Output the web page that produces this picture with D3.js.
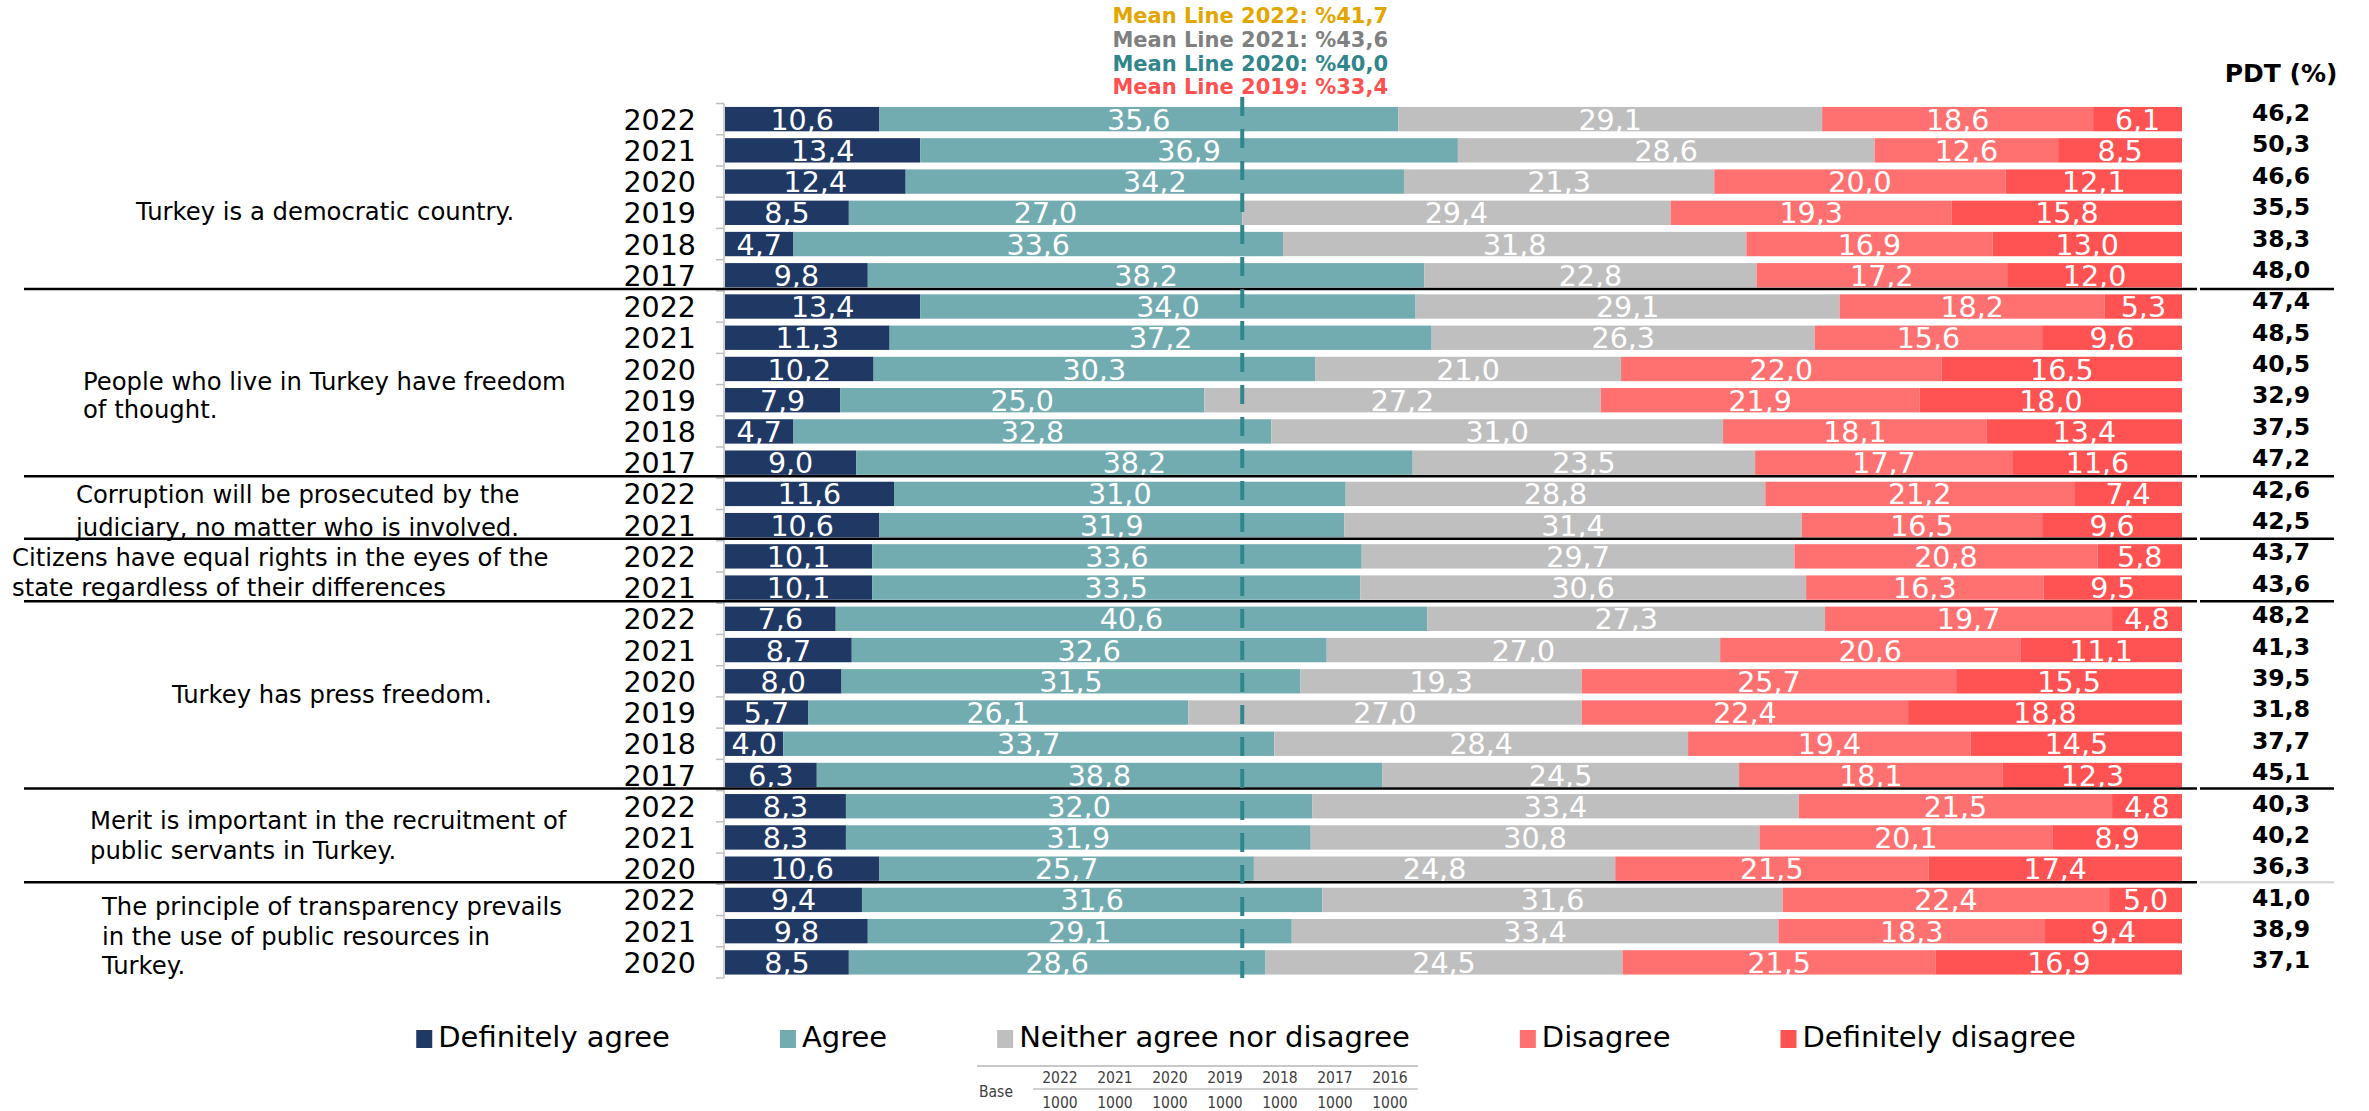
<!DOCTYPE html>
<html><head><meta charset="utf-8">
<script src="https://cdn.jsdelivr.net/npm/d3@7"></script>
<style>body{margin:0;background:#fff;} svg{display:block;}</style>
</head><body>
<svg id="chart" width="2369" height="1111"></svg>
<script>
// ---------------- DATA ----------------
const seriesNames = ["Definitely agree","Agree","Neither agree nor disagree","Disagree","Definitely disagree"];
const seriesColors = ["#203864","#72ACB1","#BFBFBF","#FF7171","#FF5252"];

const statementLines = [
  ["Turkey is a democratic country."],
  ["People who live in Turkey have freedom","of thought."],
  ["Corruption will be prosecuted by the","judiciary, no matter who is involved."],
  ["Citizens have equal rights in the eyes of the","state regardless of their differences"],
  ["Turkey has press freedom."],
  ["Merit is important in the recruitment of","public servants in Turkey."],
  ["The principle of transparency prevails","in the use of public resources in","Turkey."]
];
const statementYears = [
  ["2022","2021","2020","2019","2018","2017"],
  ["2022","2021","2020","2019","2018","2017"],
  ["2022","2021"],
  ["2022","2021"],
  ["2022","2021","2020","2019","2018","2017"],
  ["2022","2021","2020"],
  ["2022","2021","2020"]
];
// one value per row (rows in order of statementYears)
const definitelyAgree    = [10.6,13.4,12.4,8.5,4.7,9.8, 13.4,11.3,10.2,7.9,4.7,9.0, 11.6,10.6, 10.1,10.1, 7.6,8.7,8.0,5.7,4.0,6.3, 8.3,8.3,10.6, 9.4,9.8,8.5];
const agree              = [35.6,36.9,34.2,27.0,33.6,38.2, 34.0,37.2,30.3,25.0,32.8,38.2, 31.0,31.9, 33.6,33.5, 40.6,32.6,31.5,26.1,33.7,38.8, 32.0,31.9,25.7, 31.6,29.1,28.6];
const neither            = [29.1,28.6,21.3,29.4,31.8,22.8, 29.1,26.3,21.0,27.2,31.0,23.5, 28.8,31.4, 29.7,30.6, 27.3,27.0,19.3,27.0,28.4,24.5, 33.4,30.8,24.8, 31.6,33.4,24.5];
const disagree           = [18.6,12.6,20.0,19.3,16.9,17.2, 18.2,15.6,22.0,21.9,18.1,17.7, 21.2,16.5, 20.8,16.3, 19.7,20.6,25.7,22.4,19.4,18.1, 21.5,20.1,21.5, 22.4,18.3,21.5];
const definitelyDisagree = [6.1,8.5,12.1,15.8,13.0,12.0, 5.3,9.6,16.5,18.0,13.4,11.6, 7.4,9.6, 5.8,9.5, 4.8,11.1,15.5,18.8,14.5,12.3, 4.8,8.9,17.4, 5.0,9.4,16.9];
const pdtValues          = [46.2,50.3,46.6,35.5,38.3,48.0, 47.4,48.5,40.5,32.9,37.5,47.2, 42.6,42.5, 43.7,43.6, 48.2,41.3,39.5,31.8,37.7,45.1, 40.3,40.2,36.3, 41.0,38.9,37.1];

const pdtHeader = "PDT (%)";
const meanLabels = ["Mean Line 2022: %41,7","Mean Line 2021: %43,6","Mean Line 2020: %40,0","Mean Line 2019: %33,4"];
const meanColors = ["#E3A600","#808080","#31868C","#FF5050"];
const meanLineValue = 35.5;

const baseLabel = "Base";
const baseYears = ["2022","2021","2020","2019","2018","2017","2016"];
const baseValues = ["1000","1000","1000","1000","1000","1000","1000"];

// ---------------- BUILD ROWS ----------------
const seriesArrays = [definitelyAgree, agree, neither, disagree, definitelyDisagree];
const rows = [];
statementYears.forEach((yrs, g) => yrs.forEach(yr => {
  const i = rows.length;
  const r = {key: g + "-" + yr, group: g, year: yr, pdt: pdtValues[i]};
  seriesNames.forEach((s, k) => r[s] = seriesArrays[k][i]);
  rows.push(r);
}));
const fmt = v => d3.format(".1f")(v).replace(".", ",");

// ---------------- LAYOUT ----------------
const W = 2369, H = 1111;
const svg = d3.select("#chart");
svg.append("rect").attr("width", W).attr("height", H).attr("fill", "#fff");

const x = d3.scaleLinear().domain([0, 1]).range([725, 2182]);
const y = d3.scaleBand().domain(rows.map(r => r.key)).range([103.5, 978])
  .paddingInner(0.22).paddingOuter(0.11);
const pdtY = d3.scalePoint().domain(rows.map(r => r.key)).range([112.5, 960]);

const FONT = "'DejaVu Sans', Verdana, sans-serif";
const FONTC = "'DejaVu Sans Condensed', 'DejaVu Sans', sans-serif";

const stack = d3.stack().keys(seriesNames).offset(d3.stackOffsetExpand);
const stacked = stack(rows);

// bars
const layers = svg.append("g").selectAll("g").data(stacked).join("g")
  .attr("fill", (d, i) => seriesColors[i]);
layers.selectAll("rect").data(d => d).join("rect")
  .attr("x", d => x(d[0]))
  .attr("width", d => x(d[1]) - x(d[0]))
  .attr("y", d => y(d.data.key))
  .attr("height", y.bandwidth());

// value labels
const valFont = 28.5;
const labels = svg.append("g").attr("font-family", FONT).attr("font-size", valFont)
  .attr("fill", "#fff").attr("text-anchor", "middle");
stacked.forEach((layer, i) => {
  labels.selectAll(null).data(layer).join("text")
    .attr("x", d => x((d[0] + d[1]) / 2))
    .attr("y", d => y(d.data.key) + y.bandwidth() / 2 + valFont * 0.37)
    .text(d => fmt(d.data[seriesNames[i]]));
});

// axis line + boundary ticks
const x0 = x(0) - 1;
const axisG = svg.append("g").attr("stroke", "#BFBFBF").attr("stroke-width", 1.5);
axisG.append("line").attr("x1", x0).attr("x2", x0).attr("y1", y.range()[0]).attr("y2", y.range()[1]);
const gapHalf = (y.step() - y.bandwidth()) / 2;
const boundaries = rows.map(r => y(r.key) - gapHalf).concat([y(rows[rows.length - 1].key) + y.bandwidth() + gapHalf]);
axisG.selectAll(null).data(boundaries).join("line")
  .attr("x1", x0 - 8).attr("x2", x0).attr("y1", d => d).attr("y2", d => d);

// year labels
const yearFont = 28.5;
svg.append("g").attr("font-family", FONT).attr("font-size", yearFont).attr("text-anchor", "end")
  .selectAll("text").data(rows).join("text")
  .attr("x", x0 - 28)
  .attr("y", d => y(d.key) + y.bandwidth() / 2 + yearFont * 0.37)
  .text(d => d.year);

// group separators
const groupEnds = statementYears.map((yrs, g) => rows.filter(r => r.group === g).slice(-1)[0]);
const sepG = svg.append("g");
groupEnds.slice(0, -1).forEach((r, i, arr) => {
  const yy = y(r.key) + y.bandwidth() + gapHalf - 2;
  sepG.append("line").attr("x1", 24).attr("x2", 2197).attr("y1", yy).attr("y2", yy)
    .attr("stroke", "#000").attr("stroke-width", 2.5);
  sepG.append("line").attr("x1", 2200).attr("x2", 2334).attr("y1", yy).attr("y2", yy)
    .attr("stroke", i === arr.length - 1 ? "#D9D9D9" : "#000").attr("stroke-width", 2.5);
});

// statement labels
const catFont = 24.3;
const catLayout = [
  {x: 136, dy: 14, lh: 30}, {x: 83, dy: 11, lh: 28}, {x: 76, dy: 1.5, lh: 33},
  {x: 12, dy: 0, lh: 30}, {x: 172, dy: -3, lh: 30}, {x: 90, dy: -2, lh: 30}, {x: 102, dy: 5, lh: 29.5}
];
const catG = svg.append("g").attr("font-family", FONT).attr("font-size", catFont);
statementLines.forEach((lines, g) => {
  const grp = rows.filter(r => r.group === g);
  const c = (y(grp[0].key) + y(grp[grp.length - 1].key) + y.bandwidth()) / 2 + catLayout[g].dy;
  lines.forEach((ln, i) => {
    catG.append("text").attr("x", catLayout[g].x)
      .attr("y", c + (i - (lines.length - 1) / 2) * catLayout[g].lh + catFont * 0.36)
      .text(ln);
  });
});

// mean line
const mx = x(meanLineValue / 100);
svg.append("line").attr("x1", mx).attr("x2", mx).attr("y1", 97).attr("y2", 978)
  .attr("stroke", "#31868C").attr("stroke-width", 4).attr("stroke-dasharray", "19,13");
svg.append("g").attr("font-family", FONT).attr("font-size", 21).attr("font-weight", "bold")
  .attr("text-anchor", "middle")
  .selectAll("text").data(meanLabels).join("text")
  .attr("x", mx + 8).attr("y", (d, i) => 23 + i * 23.8)
  .attr("fill", (d, i) => meanColors[i]).text(d => d);

// PDT column
const pdtFont = 23.5;
svg.append("text").attr("x", 2281).attr("y", 82).attr("text-anchor", "middle")
  .attr("font-family", FONT).attr("font-weight", "bold").attr("font-size", 25).text(pdtHeader);
svg.append("g").attr("font-family", FONT).attr("font-weight", "bold").attr("font-size", pdtFont)
  .attr("text-anchor", "middle")
  .selectAll("text").data(rows).join("text")
  .attr("x", 2281).attr("y", d => pdtY(d.key) + pdtFont * 0.36)
  .text(d => fmt(d.pdt));

// legend
const legFont = 29;
const legG = svg.append("g").attr("font-family", FONT).attr("font-size", legFont);
const items = seriesNames.map((s, i) => {
  const g = legG.append("g");
  g.append("rect").attr("x", 0).attr("y", 1030).attr("width", 16).attr("height", 18).attr("fill", seriesColors[i]);
  const t = g.append("text").attr("x", 22).attr("y", 1047).text(s);
  return {g, w: 22 + t.node().getComputedTextLength()};
});
const legGap = 110;
const totalW = d3.sum(items, d => d.w) + legGap * (items.length - 1);
let lx = 1246 - totalW / 2;
items.forEach(it => { it.g.attr("transform", `translate(${lx},0)`); lx += it.w + legGap; });

// base table
const bx = d3.scalePoint().domain(baseYears).range([1060, 1390]);
const baseG = svg.append("g").attr("font-family", FONTC).attr("font-size", 15.5).attr("fill", "#404040");
baseG.append("line").attr("x1", 977).attr("x2", 1418).attr("y1", 1066).attr("y2", 1066).attr("stroke", "#C8C8C8").attr("stroke-width", 2);
baseG.append("line").attr("x1", 1033).attr("x2", 1418).attr("y1", 1089).attr("y2", 1089).attr("stroke", "#D0D0D0").attr("stroke-width", 2);
baseG.append("text").attr("x", 979).attr("y", 1097).text(baseLabel);
baseG.selectAll(".hy").data(baseYears).join("text").attr("class", "hy")
  .attr("x", d => bx(d)).attr("y", 1083).attr("text-anchor", "middle").text(d => d);
baseG.selectAll(".bv").data(baseValues.map((v, i) => ({v, k: baseYears[i]}))).join("text").attr("class", "bv")
  .attr("x", d => bx(d.k)).attr("y", 1108).attr("text-anchor", "middle").text(d => d.v);
</script>
</body></html>
